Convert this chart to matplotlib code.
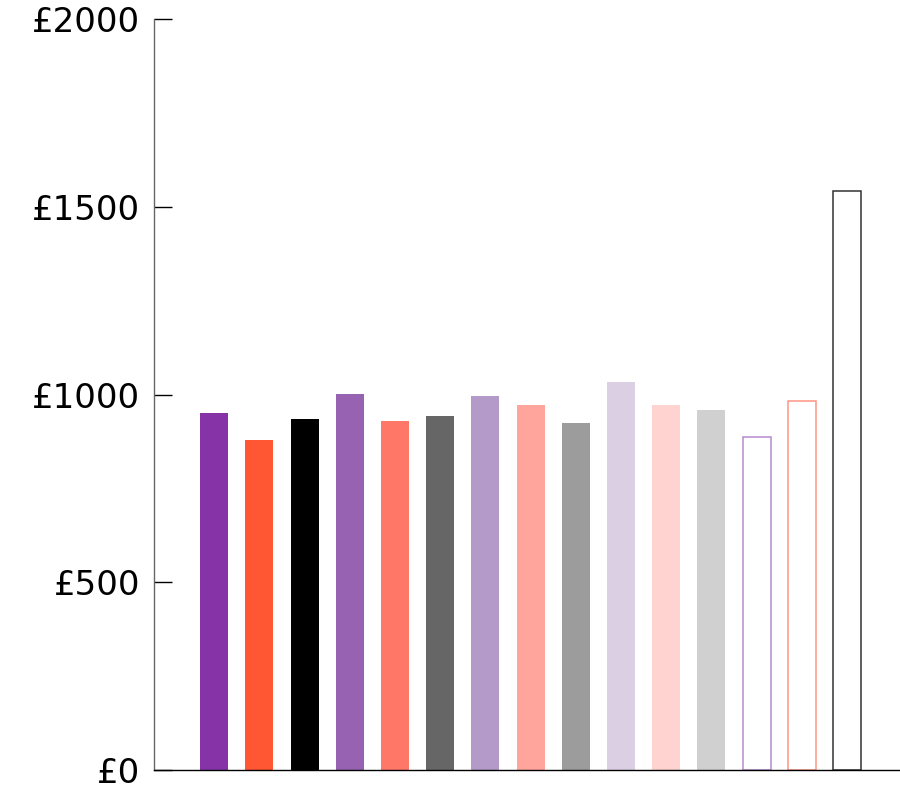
import matplotlib
matplotlib.use("Agg")
import matplotlib.pyplot as plt

values = [951, 879, 935, 1001, 929, 943, 996, 972, 924, 1033, 972, 959, 887, 983, 1542]
face_colors = ["#8533A6", "#FF5733", "#000000", "#9762B1", "#FF7766", "#666666",
               "#B49AC8", "#FFA59B", "#9C9C9C", "#DBCFE3", "#FFD3CF", "#D0D0D0",
               "none", "none", "none"]
edge_colors = [None] * 12 + ["#B48ACF", "#FF9484", "#333333"]
yticks = [0, 500, 1000, 1500, 2000]
ytick_labels = ["£0", "£500", "£1000", "£1500", "£2000"]

plt.rcParams['font.family'] = ['DejaVu Sans']
fig = plt.figure(figsize=(9, 7.91), dpi=100)
ax = fig.add_axes([154/900, 21/791, 746/900, 751/791])

for i, v in enumerate(values):
    if face_colors[i] == "none":
        ax.bar(i, v, width=0.62, facecolor="none", edgecolor=edge_colors[i], linewidth=1.1)
    else:
        ax.bar(i, v, width=0.62, color=face_colors[i], linewidth=0)

ax.set_xlim(-1.33, 15.17)
ax.set_ylim(0, 2000)
ax.set_yticks(yticks)
ax.set_yticklabels(ytick_labels, fontsize=24.5)
ax.set_xticks([])
ax.tick_params(axis='y', direction='in', length=13, width=1, pad=10, colors='black')
for s in ['top', 'right']:
    ax.spines[s].set_visible(False)
ax.spines['left'].set_color('#666666')
ax.spines['left'].set_linewidth(1)
ax.spines['bottom'].set_color('black')
ax.spines['bottom'].set_linewidth(1)

fig.savefig("out.png", dpi=100)
